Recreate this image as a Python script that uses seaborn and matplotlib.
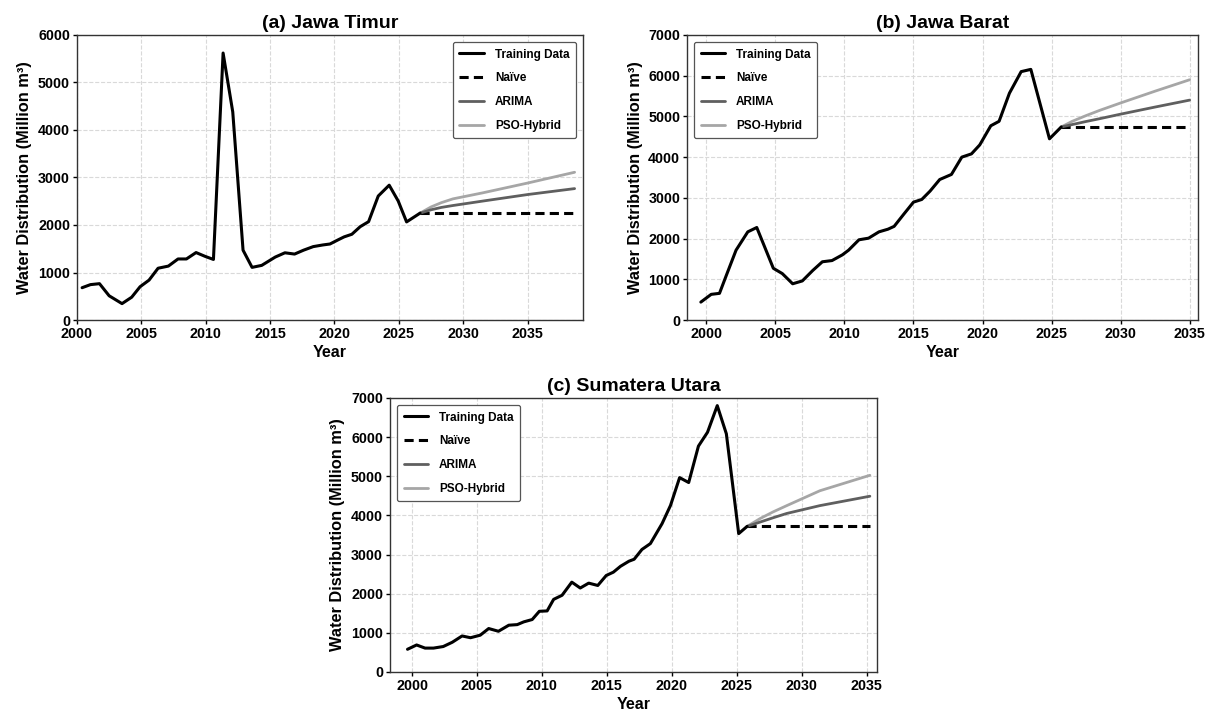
import numpy as np
import pandas as pd
import matplotlib
matplotlib.use("Agg")
import matplotlib.pyplot as plt
import seaborn as sns

# ---- (a) Jawa Timur ----
a_train_x = [2000.4, 2001.05, 2001.75, 2002.5, 2003.5, 2004.25, 2004.9, 2005.6, 2006.3, 2007.1,
             2007.85, 2008.5, 2009.25, 2009.95, 2010.6, 2011.35, 2012.1, 2012.9, 2013.6, 2014.35,
             2014.95, 2015.4, 2016.15, 2016.9, 2017.6, 2018.35, 2019.1, 2019.65, 2020.3, 2020.75,
             2021.35, 2022.0, 2022.65, 2023.4, 2024.25, 2024.95, 2025.6, 2026.65]
a_train_y = [680, 745, 765, 510, 345, 480, 700, 840, 1090, 1135,
             1285, 1285, 1420, 1340, 1275, 5620, 4380, 1470, 1108, 1150,
             1250, 1325, 1415, 1388, 1470, 1545, 1580, 1600, 1690, 1750,
             1805, 1965, 2070, 2610, 2838, 2505, 2065, 2250]
a_fc_x = [2026.65, 2027.5, 2028.3, 2029.2, 2031.5, 2035.0, 2038.65]
a_naive = [2250, 2250, 2250, 2250, 2250, 2250, 2250]
a_arima = [2250, 2320, 2370, 2410, 2503, 2641, 2766]
a_pso = [2250, 2380, 2470, 2550, 2676, 2883, 3110]

# ---- (b) Jawa Barat ----
b_train_x = [1999.6, 2000.35, 2000.95, 2001.45, 2002.15, 2003.0, 2003.65, 2004.85, 2005.5, 2006.25,
             2006.95, 2007.7, 2008.4, 2009.1, 2009.85, 2010.3, 2011.05, 2011.75, 2012.5, 2013.15,
             2013.6, 2014.3, 2015.0, 2015.6, 2016.2, 2016.9, 2017.75, 2018.5, 2019.2, 2019.8,
             2020.6, 2021.2, 2021.95, 2022.8, 2023.5, 2024.85, 2025.7]
b_train_y = [440, 630, 655, 1100, 1715, 2165, 2272, 1270, 1140, 890,
             960, 1215, 1430, 1460, 1600, 1715, 1970, 2010, 2165, 2230,
             2300, 2600, 2895, 2960, 3165, 3450, 3575, 4000, 4080, 4300,
             4770, 4880, 5570, 6100, 6155, 4450, 4740]
b_fc_x = [2025.7, 2026.5, 2027.5, 2028.5, 2030.0, 2032.5, 2035.0]
b_naive = [4740, 4740, 4740, 4740, 4740, 4740, 4740]
b_arima = [4740, 4800, 4875, 4945, 5055, 5230, 5400]
b_pso = [4740, 4880, 5020, 5150, 5330, 5620, 5900]

# ---- (c) Sumatera Utara ----
c_train_x = [1999.65, 2000.35, 2001.0, 2001.65, 2002.4, 2003.1, 2003.85, 2004.5, 2005.25, 2005.9,
             2006.65, 2007.45, 2008.1, 2008.6, 2009.25, 2009.8, 2010.4, 2010.9, 2011.55, 2012.3,
             2012.95, 2013.6, 2014.3, 2014.95, 2015.5, 2016.05, 2016.7, 2017.1, 2017.7, 2018.35,
             2019.25, 2019.9, 2020.6, 2021.3, 2022.05, 2022.75, 2023.5, 2024.2, 2025.15, 2025.8]
c_train_y = [580, 690, 610, 610, 650, 760, 920, 875, 940, 1110,
             1040, 1195, 1210, 1280, 1340, 1550, 1560, 1855, 1960, 2295,
             2145, 2270, 2210, 2465, 2550, 2700, 2830, 2880, 3130, 3280,
             3790, 4255, 4965, 4840, 5770, 6125, 6805, 6085, 3535, 3720]
c_fc_x = [2025.8, 2026.8, 2027.8, 2028.85, 2031.4, 2035.25]
c_naive = [3720, 3720, 3720, 3720, 3720, 3720]
c_arima = [3720, 3830, 3940, 4050, 4250, 4490]
c_pso = [3720, 3920, 4090, 4250, 4630, 5025]

titles = ['(a) Jawa Timur', '(b) Jawa Barat', '(c) Sumatera Utara']
series_labels = ['Training Data', 'Naïve', 'ARIMA', 'PSO-Hybrid']
year_ticks = [2000, 2005, 2010, 2015, 2020, 2025, 2030, 2035]

sns.set_style('ticks')
plt.rcParams['font.family'] = ['Liberation Sans', 'DejaVu Sans']
plt.rcParams['font.weight'] = 'bold'
for key in ['text.color', 'axes.labelcolor', 'xtick.color', 'ytick.color']:
    plt.rcParams[key] = 'black'

fig = plt.figure(figsize=(12.1, 7.18), dpi=100)
ax_a = fig.add_axes([0.0636, 0.5543, 0.4182, 0.3970])
ax_b = fig.add_axes([0.5678, 0.5543, 0.4222, 0.3970])
ax_c = fig.add_axes([0.3223, 0.0641, 0.4025, 0.3816])

panels = [
    (ax_a, a_train_x, a_train_y, a_fc_x, a_naive, a_arima, a_pso, (2000, 2039.3), 6000, 'upper right'),
    (ax_b, b_train_x, b_train_y, b_fc_x, b_naive, b_arima, b_pso, (1998.6, 2035.6), 7000, 'upper left'),
    (ax_c, c_train_x, c_train_y, c_fc_x, c_naive, c_arima, c_pso, (1998.3, 2035.8), 7000, 'upper left'),
]

for i, (ax, tx, ty, fx, naive, arima, pso, xlim, ymax, loc) in enumerate(panels):
    train_df = pd.DataFrame({'Year': tx, 'Value': ty})
    fc_df = pd.DataFrame({'Year': fx, 'Naive': naive, 'ARIMA': arima, 'PSO': pso})

    sns.lineplot(data=train_df, x='Year', y='Value', ax=ax, color='black', linewidth=2.2,
                 label=series_labels[0], zorder=4)
    sns.lineplot(data=fc_df, x='Year', y='Naive', ax=ax, color='black', linewidth=2.2,
                 linestyle='--', label=series_labels[1], zorder=3)
    sns.lineplot(data=fc_df, x='Year', y='ARIMA', ax=ax, color='#5f5f5f', linewidth=2.0,
                 label=series_labels[2], zorder=3)
    sns.lineplot(data=fc_df, x='Year', y='PSO', ax=ax, color='#a6a6a6', linewidth=2.0,
                 label=series_labels[3], zorder=2)
    for line in ax.get_lines():
        if line.get_label() == series_labels[1]:
            line.set_dashes([3, 1.7])

    ax.set_xlim(*xlim)
    ax.set_ylim(0, ymax)
    ax.set_xticks(year_ticks)
    ax.set_yticks(np.arange(0, ymax + 1, 1000))
    ax.grid(True, linestyle='--', color='#d9d9d9', linewidth=0.8)
    ax.set_axisbelow(True)
    for sp in ax.spines.values():
        sp.set_visible(True)
        sp.set_color('#333333')
        sp.set_linewidth(1.0)
    ax.tick_params(axis='both', direction='out', length=3, width=1, labelsize=10.3, pad=2)
    for lab in ax.get_xticklabels() + ax.get_yticklabels():
        lab.set_fontweight('bold')
    ax.set_title(titles[i], fontsize=14, fontweight='bold', pad=5)
    ax.set_xlabel('Year', fontsize=11.5, fontweight='bold', labelpad=3)
    ax.set_ylabel('Water Distribution (Million m³)', fontsize=11.8, fontweight='bold', labelpad=4)

    leg = ax.legend(loc=loc, prop={'weight': 'bold', 'size': 8.5}, frameon=True,
                    fancybox=True, edgecolor='#555555', framealpha=1.0,
                    labelspacing=1.0, handlelength=2.1, borderpad=0.55,
                    borderaxespad=0.6, handletextpad=0.9)
    leg.get_frame().set_linewidth(0.9)

fig.savefig('out.png', dpi=100)
